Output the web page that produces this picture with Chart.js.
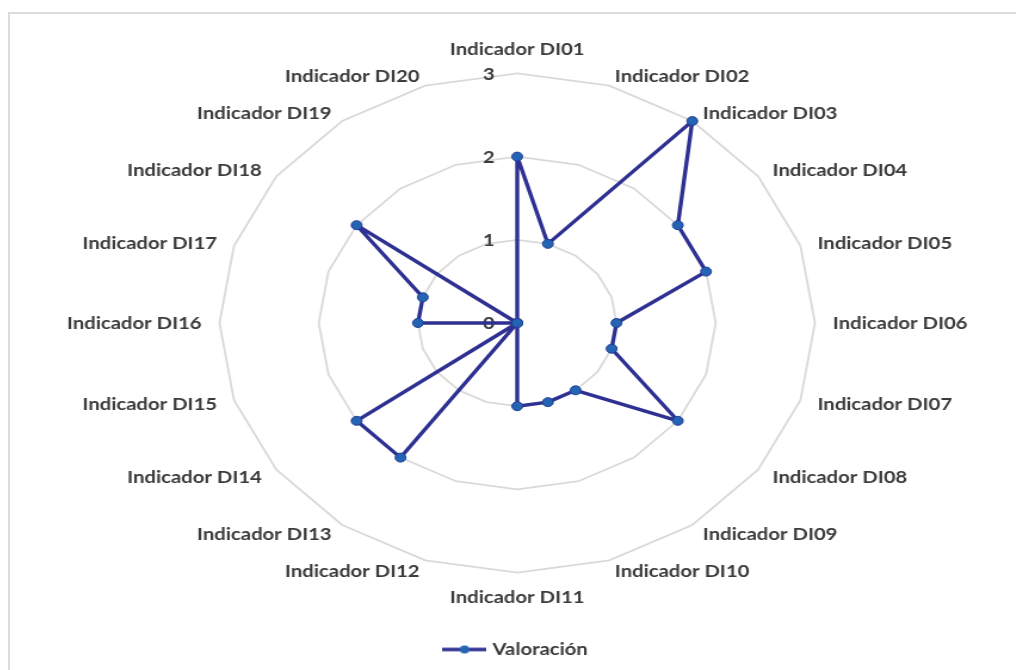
<!DOCTYPE html>
<html>
<head>
<meta charset="utf-8">
<script src="https://cdn.jsdelivr.net/npm/chart.js@4.4.0/dist/chart.umd.min.js"></script>
<style>
  html, body { margin: 0; padding: 0; background: #fff; overflow: hidden; }
  #frame { position: absolute; left: 8px; top: 12px; width: 1100px; height: 700px; border: 2px solid #dcdcdc; }
  #chart { position: absolute; left: 9px; top: 0; transform-origin: 0 0; transform: scaleX(1.193); }
</style>
</head>
<body>
<div id="frame"></div>
<canvas id="chart" width="852" height="670"></canvas>
<script>
const indicadores = [
    'Indicador DI01', 'Indicador DI02', 'Indicador DI03', 'Indicador DI04', 'Indicador DI05',
    'Indicador DI06', 'Indicador DI07', 'Indicador DI08', 'Indicador DI09', 'Indicador DI10',
    'Indicador DI11', 'Indicador DI12', 'Indicador DI13', 'Indicador DI14', 'Indicador DI15',
    'Indicador DI16', 'Indicador DI17', 'Indicador DI18', 'Indicador DI19', 'Indicador DI20'
];
const valoracion = [2, 1, 3, 2, 2, 1, 1, 2, 1, 1, 1, 0, 2, 2, 0, 1, 1, 2, 0, 0];
const tickValues = [0, 1, 2, 3];

const lineColor = '#2e3192';
const textColor = '#3b3b3b';
const fontFamily = 'Lato, "Open Sans", sans-serif';
const labelFont = 'bold 17px ' + fontFamily;
const labelPad = 15;

// legend marker: line with a dot in the middle
function makeMarker() {
    let c = document.createElement('canvas');
    c.width = 37;
    c.height = 10;
    let g = c.getContext('2d');
    g.strokeStyle = lineColor;
    g.lineWidth = 3.4;
    g.beginPath();
    g.moveTo(0, 5);
    g.lineTo(37, 5);
    g.stroke();
    g.fillStyle = '#2563b3';
    g.beginPath();
    g.arc(18.5, 5, 4, 0, Math.PI * 2);
    g.fill();
    return c;
}

// tick numbers sit just left of the vertical axis
const tickLabels = {
    id: 'tickLabels',
    beforeDatasetsDraw(chart) {
        const r = chart.scales.r;
        const ctx = chart.ctx;
        ctx.save();
        ctx.font = labelFont;
        ctx.fillStyle = textColor;
        ctx.textAlign = 'right';
        ctx.textBaseline = 'middle';
        tickValues.forEach(function (v) {
            ctx.fillText(String(v), r.xCenter - 19, r.yCenter - r.getDistanceFromCenterForValue(v) + 1);
        });
        ctx.restore();
    }
};

// category labels: vertically centred on their anchor like the original,
// the library's own (transparent) labels still reserve the space
const categoryLabels = {
    id: 'categoryLabels',
    afterDraw(chart) {
        const r = chart.scales.r;
        const ctx = chart.ctx;
        const n = indicadores.length;
        ctx.save();
        ctx.font = labelFont;
        ctx.fillStyle = textColor;
        ctx.textBaseline = 'middle';
        indicadores.forEach(function (text, i) {
            const angle = i * 360 / n;
            const pos = r.getPointPosition(i, r.drawingArea + labelPad);
            const posY = r.getPointPosition(i, r.drawingArea + labelPad - 4);
            let y = posY.y + 1;
            if (angle === 0) {
                ctx.textAlign = 'center';
                y = pos.y - 9;
            } else if (angle === 180) {
                ctx.textAlign = 'center';
                y = pos.y + 10;
            } else {
                ctx.textAlign = angle < 180 ? 'left' : 'right';
            }
            ctx.fillText(text, pos.x, y);
        });
        ctx.restore();
    }
};

const ctx = document.getElementById('chart').getContext('2d');
const radar = new Chart(ctx, {
    type: 'radar',
    data: {
        labels: indicadores,
        datasets: [{
            label: 'Valoración',
            data: valoracion,
            borderColor: lineColor,
            borderWidth: 3.4,
            borderJoinStyle: 'round',
            fill: false,
            tension: 0,
            pointRadius: 4.5,
            pointBackgroundColor: '#2563b3',
            pointBorderColor: '#1f3f95',
            pointBorderWidth: 1
        }]
    },
    options: {
        responsive: false,
        animation: false,
        devicePixelRatio: 1,
        layout: { padding: { top: 38, bottom: 2 } },
        plugins: {
            legend: {
                position: 'bottom',
                labels: {
                    usePointStyle: true,
                    pointStyle: makeMarker(),
                    pointStyleWidth: 30,
                    padding: 32,
                    color: textColor,
                    font: { family: fontFamily, size: 17, weight: 'bold' }
                }
            },
            tooltip: { enabled: false }
        },
        scales: {
            r: {
                min: 0,
                max: 3,
                ticks: { stepSize: 1, display: false },
                angleLines: { display: false },
                grid: { color: '#d9d9d9', lineWidth: 1.8 },
                pointLabels: {
                    padding: labelPad,
                    color: 'rgba(0,0,0,0)',
                    font: { family: fontFamily, size: 17, weight: 'bold' }
                }
            }
        }
    },
    plugins: [tickLabels, categoryLabels]
});
</script>
</body>
</html>
